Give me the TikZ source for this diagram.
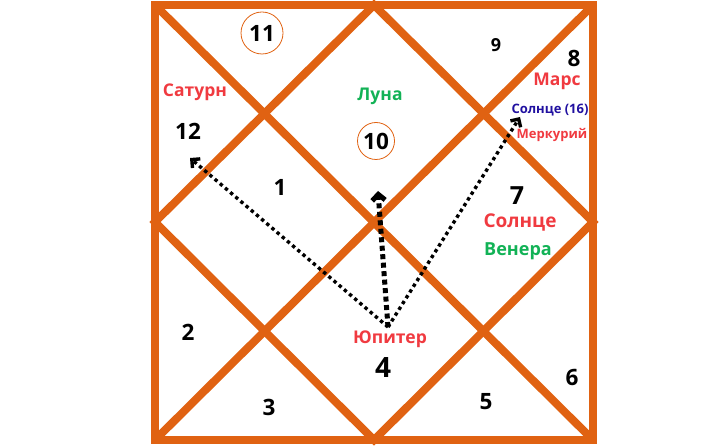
\documentclass[tikz,border=0pt]{standalone}
\usepackage{fontspec}
\setmainfont{Open Sans}
\usepackage{tikz}
\usetikzlibrary{arrows,arrows.meta}

\definecolor{chartorange}{RGB}{224,98,18}
\definecolor{planred}{RGB}{240,58,64}
\definecolor{plangreen}{RGB}{18,178,86}
\definecolor{planblue}{RGB}{32,16,160}

\tikzset{
	house/.style={font=\bfseries\fontsize{22.5}{25}\selectfont},
	planet/.style={font=\bfseries\fontsize{17.5}{19}\selectfont},
	small/.style={font=\bfseries\fontsize{13}{14}\selectfont},
	ring/.style={circle, draw=chartorange, line width=0.8pt, minimum size=#1, inner sep=0pt}
}

\begin{document}
\begin{tikzpicture}[x=1pt,y=-1pt,>=latex]
	\useasboundingbox (0,0) rectangle (723,446);
	%Quadrato e diagonali
	\draw [chartorange, line width=8pt, line join=miter] (155,5) rectangle (593,440);
	\draw [chartorange, line width=8pt] (155,5) -- (593,440);
	\draw [chartorange, line width=8pt] (593,5) -- (155,440);
	\draw [chartorange, line width=8pt, line join=miter] (374,5) -- (593,222) -- (374,440) -- (155,222) -- cycle;
	%Case
	\node [house, ring=42pt] (h11) at (262,33) {11};
	\node [house, ring=37pt] (h10) at (376,141) {10};
	\node [house] (h12) at (188,131) {12};
	\node [house] (h1) at (280,187) {1};
	\node [house, font=\bfseries\fontsize{18}{20}\selectfont] (h9) at (496,45) {9};
	\node [house] (h8) at (574,58) {8};
	\node [house, font=\bfseries\fontsize{25}{27}\selectfont] (h7) at (517,196) {7};
	\node [house] (h2) at (188,332) {2};
	\node [house, font=\bfseries\fontsize{28}{30}\selectfont] (h4) at (383,368) {4};
	\node [house] (h3) at (269,407) {3};
	\node [house] (h5) at (486,402) {5};
	\node [house] (h6) at (572,377) {6};
	%Pianeti
	\node [planet, planred] (saturn) at (195,92) {Сатурн};
	\node [planet, plangreen] (moon) at (380,96) {Луна};
	\node [planet, planred] (mars) at (557,81) {Марс};
	\node [small, planblue] (sun16) at (550,110) {Солнце (16)};
	\node [small, planred] (mercury) at (552,135) {Меркурий};
	\node [planet, planred, font=\bfseries\fontsize{19}{21}\selectfont] (sun) at (520,222) {Солнце};
	\node [planet, plangreen, font=\bfseries\fontsize{18}{20}\selectfont] (venus) at (518,251) {Венера};
	\node [planet, planred] (jupiter) at (390,339) {Юпитер};
	%Aspetti
	\coordinate (jup) at (388,327);
	\coordinate (asp12) at (190,158);
	\coordinate (asp10) at (378,191);
	\coordinate (asp8) at (520,117);
	\draw [-{Straight Barb[length=6pt,width=12pt]}, line width=3.4pt, dash pattern=on 3.4pt off 3.4pt] (jup) -- (asp12);
	\draw [-{Straight Barb[length=6pt,width=13pt]}, line width=5pt, dash pattern=on 5pt off 3.5pt] (jup) -- (asp10);
	\draw [-{Straight Barb[length=6pt,width=12pt]}, line width=3.4pt, dash pattern=on 3.4pt off 3.4pt] (jup) -- (asp8);
\end{tikzpicture}
\end{document}
